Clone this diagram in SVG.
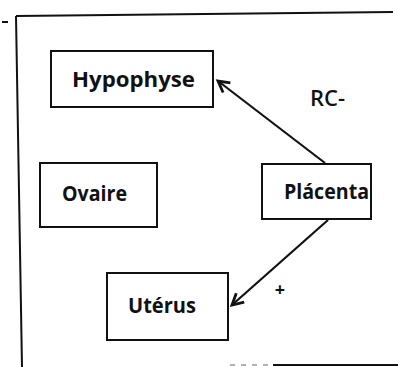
<svg xmlns="http://www.w3.org/2000/svg" width="398" height="367" viewBox="0 0 398 367">
<style>
.box{fill:#fff;stroke:#111;stroke-width:2}
.lbl{font-family:"Open Sans","Liberation Sans",sans-serif;font-weight:700;font-size:22px;fill:#111;text-anchor:middle}
.edge{stroke:#111;stroke-width:2.2;fill:none}
.frame{stroke:#111;stroke-width:2;fill:none}
</style>
<defs>
<marker id="ah" markerWidth="16" markerHeight="16" refX="13" refY="8" orient="auto" markerUnits="userSpaceOnUse">
<path d="M2,2 L13,8 L2,14" fill="none" stroke="#111" stroke-width="2.8"/>
</marker>
</defs>
<g id="frame">
<path class="frame" d="M16,16 L393,12 M16,16 L22,367"/>
<path d="M2,22 L8,22" stroke="#111" stroke-width="2"/>
<path d="M230,365 L273,365" stroke="#999" stroke-width="1.5" stroke-dasharray="5 6"/>
<path d="M273,365 L398,365" stroke="#111" stroke-width="2"/>
</g>
<g id="connectors">
<line class="edge" x1="325" y1="163" x2="218" y2="81" marker-end="url(#ah)"/>
<line class="edge" x1="328" y1="220" x2="232" y2="305" marker-end="url(#ah)"/>
<text class="lbl" x="327.5" y="106" textLength="35" lengthAdjust="spacingAndGlyphs" style="font-weight:600">RC-</text>
<text class="lbl" x="280" y="296" style="font-size:18px">+</text>
</g>
<g id="hypophyse">
<rect class="box" x="51" y="51" width="162" height="56"/>
<text class="lbl" x="133.5" y="87" textLength="123" lengthAdjust="spacingAndGlyphs">Hypophyse</text>
</g>
<g id="ovaire">
<rect class="box" x="40" y="163" width="117" height="64"/>
<text class="lbl" x="94.5" y="201" textLength="65" lengthAdjust="spacingAndGlyphs">Ovaire</text>
</g>
<g id="placenta">
<rect class="box" x="262" y="164" width="109" height="55"/>
<text class="lbl" x="326.5" y="199" textLength="85" lengthAdjust="spacingAndGlyphs">Plácenta</text>
</g>
<g id="uterus">
<rect class="box" x="107" y="273" width="121" height="67"/>
<text class="lbl" x="162" y="313" textLength="68" lengthAdjust="spacingAndGlyphs">Utérus</text>
</g>
</svg>
